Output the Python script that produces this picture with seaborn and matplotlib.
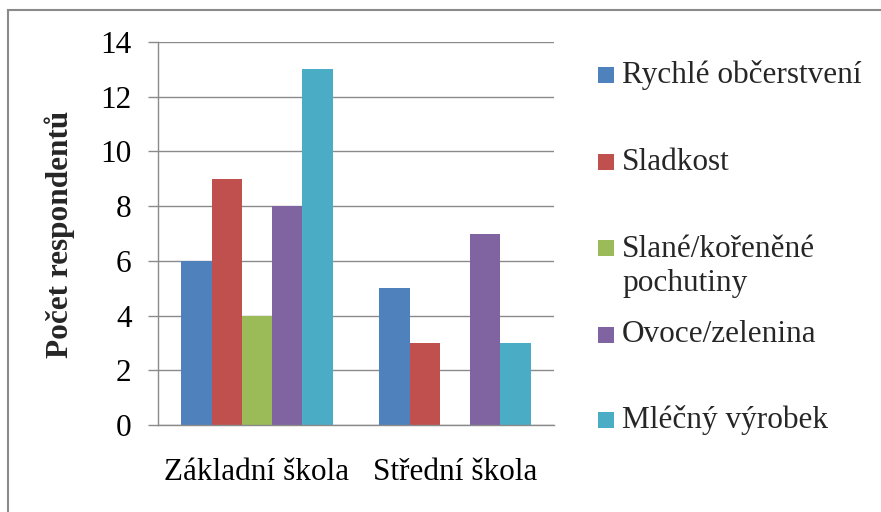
import matplotlib
matplotlib.use("Agg")
import matplotlib.pyplot as plt
from matplotlib.patches import Rectangle
import seaborn as sns
import pandas as pd

categories = ["Základní škola", "Střední škola"]
series = ["Rychlé občerstvení", "Sladkost", "Slané/kořeněné\npochutiny",
          "Ovoce/zelenina", "Mléčný výrobek"]
values = {
    "Rychlé občerstvení": [6, 5],
    "Sladkost": [9, 3],
    "Slané/kořeněné\npochutiny": [4, 0],
    "Ovoce/zelenina": [8, 7],
    "Mléčný výrobek": [13, 3],
}
colors = ["#4F81BD", "#C0504D", "#9BBB59", "#8064A2", "#4BACC6"]
y_ticks = [0, 2, 4, 6, 8, 10, 12, 14]
y_label = "Počet respondentů"

rows = []
for s in series:
    for c, v in zip(categories, values[s]):
        rows.append({"category": c, "series": s, "value": v})
df = pd.DataFrame(rows)

sns.set_style("white")
plt.rcParams["font.family"] = ["Liberation Serif", "DejaVu Serif"]
FS = 22.5
GRAY = "#8a8a8a"

W, H = 881, 512
fig = plt.figure(figsize=(W / 100, H / 100), dpi=100)
ax = fig.add_axes([158 / W, (H - 425) / H, 396 / W, (425 - 42) / H])

sns.barplot(data=df, x="category", y="value", hue="series", order=categories,
            hue_order=series, palette=colors, width=0.763, saturation=1,
            ax=ax, legend=False, edgecolor="none", linewidth=0, errorbar=None)

ax.set_ylim(0, 14)
ax.set_xlim(-0.5, 1.5)
ax.set_yticks(y_ticks)
ax.set_yticklabels([str(t) for t in y_ticks], fontsize=FS, color="#000000")
ax.yaxis.grid(True, color=GRAY, linewidth=1.0)
ax.set_axisbelow(True)

ax.set_xticks([-0.5, 0.5, 1.5])
ax.set_xticklabels(["", "", ""])
ax.set_xticks([0, 1], minor=True)
ax.set_xticklabels(categories, minor=True, fontsize=FS, color="#000000")
ax.tick_params(axis="x", which="major", length=8, width=1, color=GRAY, direction="out")
ax.tick_params(axis="x", which="minor", length=0, pad=24)
ax.tick_params(axis="y", length=7, width=1, color=GRAY, direction="out", pad=12, left=True)
ax.set_xlabel("")
ax.set_ylabel("")

for side in ["top", "right"]:
    ax.spines[side].set_visible(False)
for side in ["left", "bottom"]:
    ax.spines[side].set_visible(True)
    ax.spines[side].set_color(GRAY)
    ax.spines[side].set_linewidth(1.0)

fig.text(60 / W, 1 - 234 / H, y_label, rotation=90, ha="center", va="center",
         fontsize=FS, fontweight="bold")

# legend
entry_y = [75, 162, 266.5, 335, 420]
marker_y = [75, 162, 248, 335, 420]
for s, col, ty, my in zip(series, colors, entry_y, marker_y):
    fig.patches.append(Rectangle((598 / W, 1 - (my + 8) / H), 16 / W, 16 / H,
                                 transform=fig.transFigure, facecolor=col,
                                 edgecolor="none"))
    fig.text(622 / W, 1 - ty / H, s, ha="left", va="center", fontsize=FS,
             linespacing=1.2)

# outer border (only top and left visible)
fig.patches.append(Rectangle((8 / W, -0.1), 2, 1.1 - 10 / H, transform=fig.transFigure,
                             facecolor="none", edgecolor=GRAY, linewidth=1.5))

fig.savefig("out.png", dpi=100)
